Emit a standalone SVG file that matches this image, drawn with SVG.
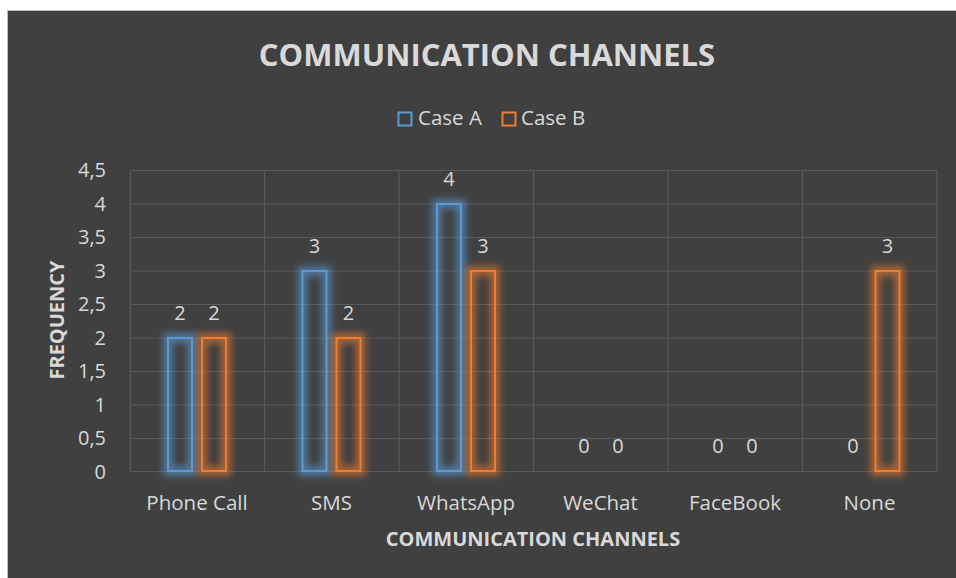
<svg xmlns="http://www.w3.org/2000/svg" width="956" height="578" viewBox="0 0 956 578">
<defs>
<filter id="glow" x="-50%" y="-20%" width="200%" height="140%"><feGaussianBlur stdDeviation="3.5"/></filter>
<style>
.t{font-family:"Open Sans","Liberation Sans",sans-serif;fill:#d9d9d9}
.tick{font-size:20px;text-anchor:end}
.cat{font-size:20.5px;text-anchor:middle}
.val{font-size:20px;text-anchor:middle}
.grid{stroke:#595959;stroke-width:1.2;fill:none}
.ba{fill:none;stroke:#5b9bd5;stroke-width:2}
.bb{fill:none;stroke:#ed7d31;stroke-width:2}
.ga{fill:none;stroke:#5b9bd5;stroke-width:10;opacity:0.6;filter:url(#glow)}
.gb{fill:none;stroke:#ed7d31;stroke-width:10;opacity:0.6;filter:url(#glow)}
</style>
</defs>
<rect x="0" y="0" width="956" height="578" fill="#ffffff"/>
<rect x="7.5" y="10.5" width="960" height="580" fill="#404040" stroke="#bfbfbf" stroke-width="1"/>
<text class="t" x="487" y="66" font-size="31" font-weight="bold" text-anchor="middle">COMMUNICATION CHANNELS</text>
<g id="legend">
<rect x="398.5" y="112.5" width="13" height="13" fill="none" stroke="#5b9bd5" stroke-width="2"/>
<text class="t" x="418" y="125" font-size="20.5">Case A</text>
<rect x="502.5" y="112.5" width="13" height="13" fill="none" stroke="#ed7d31" stroke-width="2"/>
<text class="t" x="521" y="125" font-size="20.5">Case B</text>
</g>
<g id="grid">
<path class="grid" d="M130 170.5H937M130 204H937M130 237.5H937M130 271H937M130 304.5H937M130 338H937M130 371.5H937M130 405H937M130 438.5H937M130 471.5H937"/>
<path class="grid" d="M130.5 170V471M264.5 170V471M399 170V471M533.5 170V471M668 170V471M802.5 170V471M937 170V471"/>
</g>
<g id="yaxis">
<text class="t tick" x="106" y="177">4,5</text>
<text class="t tick" x="106" y="211">4</text>
<text class="t tick" x="106" y="244">3,5</text>
<text class="t tick" x="106" y="278">3</text>
<text class="t tick" x="106" y="311">2,5</text>
<text class="t tick" x="106" y="345">2</text>
<text class="t tick" x="106" y="378">1,5</text>
<text class="t tick" x="106" y="412">1</text>
<text class="t tick" x="106" y="445">0,5</text>
<text class="t tick" x="106" y="479">0</text>
<text class="t" transform="translate(64,320) rotate(-90)" font-size="20" font-weight="bold" text-anchor="middle">FREQUENCY</text>
</g>
<g id="bars">
<rect class="ga" x="168" y="338" width="24" height="133"/><rect class="ba" x="168" y="338" width="24" height="133"/>
<rect class="gb" x="202" y="338" width="24" height="133"/><rect class="bb" x="202" y="338" width="24" height="133"/>
<rect class="ga" x="302.5" y="271" width="24" height="200"/><rect class="ba" x="302.5" y="271" width="24" height="200"/>
<rect class="gb" x="336.5" y="338" width="24" height="133"/><rect class="bb" x="336.5" y="338" width="24" height="133"/>
<rect class="ga" x="437" y="204" width="24" height="267"/><rect class="ba" x="437" y="204" width="24" height="267"/>
<rect class="gb" x="471" y="271" width="24" height="200"/><rect class="bb" x="471" y="271" width="24" height="200"/>
<rect class="gb" x="875.5" y="271" width="24" height="200"/><rect class="bb" x="875.5" y="271" width="24" height="200"/>
</g>
<g id="values">
<text class="t val" x="180" y="320">2</text>
<text class="t val" x="214" y="320">2</text>
<text class="t val" x="314.5" y="253">3</text>
<text class="t val" x="348.5" y="320">2</text>
<text class="t val" x="449" y="186">4</text>
<text class="t val" x="483" y="253">3</text>
<text class="t val" x="584" y="453">0</text>
<text class="t val" x="618" y="453">0</text>
<text class="t val" x="718" y="453">0</text>
<text class="t val" x="752" y="453">0</text>
<text class="t val" x="853" y="453">0</text>
<text class="t val" x="887.5" y="253">3</text>
</g>
<g id="xaxis">
<text class="t cat" x="197" y="510">Phone Call</text>
<text class="t cat" x="331.5" y="510">SMS</text>
<text class="t cat" x="466" y="510">WhatsApp</text>
<text class="t cat" x="600.5" y="510">WeChat</text>
<text class="t cat" x="735" y="510">FaceBook</text>
<text class="t cat" x="869.5" y="510">None</text>
<text class="t" x="533" y="546" font-size="20" font-weight="bold" text-anchor="middle">COMMUNICATION CHANNELS</text>
</g>
</svg>
